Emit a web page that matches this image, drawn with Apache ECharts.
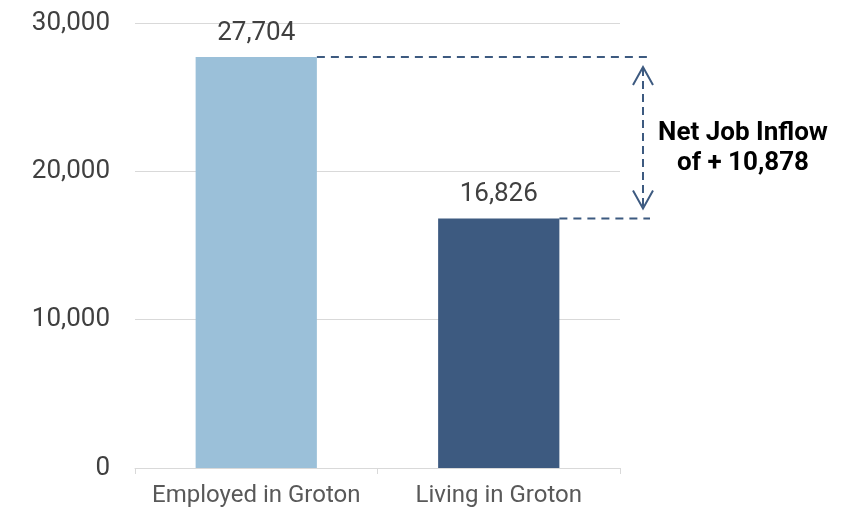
<!DOCTYPE html>
<html><head><meta charset="utf-8">
<script src="https://cdn.jsdelivr.net/npm/echarts@6/dist/echarts.min.js"></script>
<style>html,body{margin:0;padding:0;background:#fff}#c{width:859px;height:512px}</style>
</head><body><div id="c"></div>
<script>
const categories = ['Employed in Groton', 'Living in Groton'];
const values = [27704, 16826];
const barColors = ['#9BC0D9', '#3D5A80'];
const yTicks = [0, 10000, 20000, 30000];
const noteLines = ['Net Job Inflow', 'of + 10,878'];

const chart = echarts.init(document.getElementById('c'));
const font = 'Roboto';
chart.setOption({
  animation: false,
  grid: { left: 135, right: 239, top: 23, bottom: 44, containLabel: false },
  xAxis: {
    type: 'category', data: categories,
    axisLine: { lineStyle: { color: '#D9D9D9', width: 1 } },
    axisTick: { show: true, length: 6, lineStyle: { color: '#D9D9D9' } },
    axisLabel: { color: '#595959', fontSize: 24, fontFamily: font, margin: 16, interval: 0, hideOverlap: false }
  },
  yAxis: {
    type: 'value', min: yTicks[0], max: yTicks[yTicks.length - 1], interval: 10000,
    axisLine: { show: false }, axisTick: { show: false },
    splitLine: { lineStyle: { color: '#D9D9D9', width: 1 } },
    axisLabel: { color: '#404040', fontSize: 26, fontFamily: font, margin: 25,
      formatter: v => v.toLocaleString('en-US') }
  },
  series: [{
    type: 'bar', barWidth: '50%',
    data: values.map((v, i) => ({ value: v, itemStyle: { color: barColors[i] } })),
    label: { show: true, position: 'top', distance: 11, color: '#404040', fontSize: 26, fontFamily: font,
      formatter: p => p.value.toLocaleString('en-US') }
  }]
});

function drawNotes() {
  const p0 = chart.convertToPixel({ gridIndex: 0 }, [0, values[0]]);
  const p1 = chart.convertToPixel({ gridIndex: 0 }, [1, values[1]]);
  const catW = p1[0] - p0[0];
  const half = catW * 0.25;
  const xEnd = p1[0] + catW * 0.5 + 30;
  const ax = xEnd - 7;
  const stroke = '#3D5A80';
  const dash = { stroke, lineWidth: 2, lineDash: [8, 6] };
  const topY = p0[1], botY = p1[1];
  const g = [
    { type: 'line', shape: { x1: p0[0] + half, y1: topY, x2: xEnd, y2: topY }, style: dash, silent: true },
    { type: 'line', shape: { x1: p1[0] + half, y1: botY, x2: xEnd, y2: botY }, style: dash, silent: true },
    { type: 'line', shape: { x1: ax, y1: topY + 11, x2: ax, y2: botY - 11 }, style: { stroke, lineWidth: 2, lineDash: [8, 5] }, silent: true },
    { type: 'polyline', shape: { points: [[ax - 10, topY + 28], [ax, topY + 10], [ax + 10, topY + 28]] }, style: { stroke, lineWidth: 2, fill: null }, silent: true },
    { type: 'polyline', shape: { points: [[ax - 10, botY - 28], [ax, botY - 10], [ax + 10, botY - 28]] }, style: { stroke, lineWidth: 2, fill: null }, silent: true },
    { type: 'text', x: ax + 100, y: (topY + botY) / 2 + 11, style: { text: noteLines.join('\n'), fill: '#000', font: 'bold 26px Roboto', align: 'center', verticalAlign: 'middle', lineHeight: 30 }, silent: true }
  ];
  chart.setOption({ graphic: g });
}
drawNotes();
</script></body></html>
